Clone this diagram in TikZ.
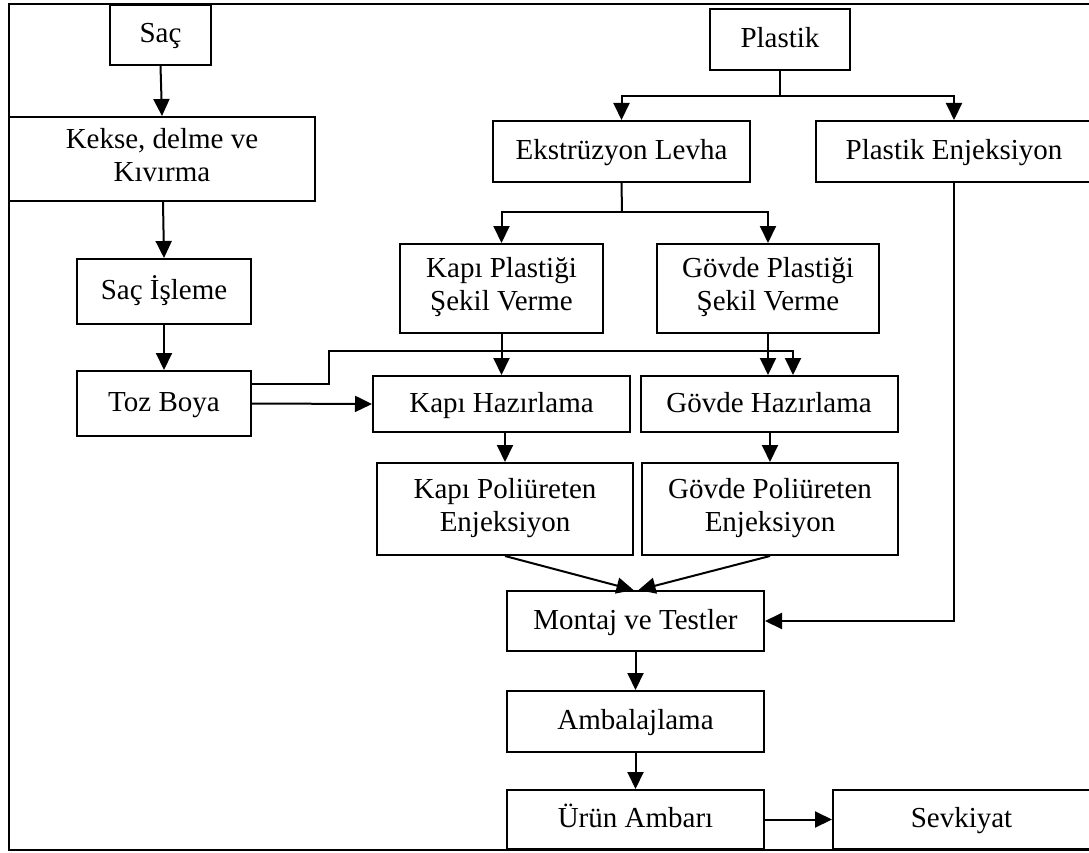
\documentclass[tikz,border=0pt]{standalone}
\usepackage{fontspec}
\setmainfont{Liberation Serif}
\usetikzlibrary{arrows.meta,calc}

% fixed line height and depth so every label sits on the same baseline grid
\newcommand\topstrut{\rule{0pt}{25pt}}
\newcommand\botstrut{\rule[-9pt]{0pt}{9pt}}

\begin{document}
\begin{tikzpicture}[x=1pt,y=-1pt,
  box/.style={draw, line width=2pt, rectangle, inner sep=0pt, align=center,
              font=\fontsize{29pt}{33pt}\selectfont,
              execute at begin node=\topstrut, execute at end node=\botstrut},
  link/.style={line width=2pt},
  flow/.style={line width=2pt, -{Triangle[length=17pt,width=16pt]}}]

\useasboundingbox (0,0) rectangle (1089,853);
\clip (0,0) rectangle (1089,853);

% outer frame
\draw[line width=2pt] (9,4) rectangle (1110,850);

% sheet-metal line
\node[box, minimum width=101pt, minimum height=60pt] (sac)    at (160.5,35)   {Saç};
\node[box, minimum width=306pt, minimum height=84pt] (kekse)  at (162,159)    {Kekse, delme ve\\Kıvırma};
\node[box, minimum width=174pt, minimum height=65pt] (isleme) at (164,291.5)  {Saç İşleme};
\node[box, minimum width=174pt, minimum height=65pt] (toz)    at (164,403.5)  {Toz Boya};

% plastics line
\node[box, minimum width=140pt, minimum height=61pt] (plastik) at (780,39.5)   {Plastik};
\node[box, minimum width=257pt, minimum height=61pt] (ekstr)   at (621.5,151.5) {Ekstrüzyon Levha};
\node[box, minimum width=276pt, minimum height=61pt] (penj)    at (954,151.5)   {Plastik Enjeksiyon};
\node[box, minimum width=203pt, minimum height=89pt] (kpsv)    at (501.5,288.5) {Kapı Plastiği\\Şekil Verme};
\node[box, minimum width=222pt, minimum height=89pt] (gpsv)    at (768,288.5)   {Gövde Plastiği\\Şekil Verme};

% preparation and foaming
\node[box, minimum width=257pt, minimum height=56pt] (khaz) at (501.5,404) {Kapı Hazırlama};
\node[box, minimum width=257pt, minimum height=56pt] (ghaz) at (769,404)   {Gövde Hazırlama};
\node[box, minimum width=256pt, minimum height=92pt] (kpol) at (505,509)   {Kapı Poliüreten\\Enjeksiyon};
\node[box, minimum width=256pt, minimum height=92pt] (gpol) at (770,509)   {Gövde Poliüreten\\Enjeksiyon};

% final stages
\node[box, minimum width=257pt, minimum height=60pt] (montaj) at (635.5,621)   {Montaj ve Testler};
\node[box, minimum width=257pt, minimum height=61pt] (ambal)  at (635.5,721.5) {Ambalajlama};
\node[box, minimum width=257pt, minimum height=59pt] (urun)   at (635.5,819.5) {Ürün Ambarı};
\node[box, minimum width=257pt, minimum height=59pt] (sevk)   at (961.5,819.5) {Sevkiyat};

% sheet-metal flow
\draw[flow] (sac.south) -- (kekse.north);
\draw[flow] ($(kekse.south)+(1,0)$) -- (isleme.north);
\draw[flow] (isleme.south) -- (toz.north);

% powder paint to both preparation stations
\coordinate (tzA) at ($(toz.east)+(0,-19.5)$);
\coordinate (tzB) at (329,0);
\coordinate (tzC) at (793,350.5);
\draw[flow] (tzA) -- (tzA -| tzB) -- (tzB |- tzC) -- (tzC) -- (tzC |- ghaz.north);
\draw[flow] (toz.east) -- (khaz.west);

% plastic split
\coordinate (plS) at (780,96);
\draw[link] (plastik.south) -- (plS);
\draw[flow] (plS) -- (ekstr.north |- plS) -- (ekstr.north);
\draw[flow] (plS) -- (penj.north |- plS) -- (penj.north);

% extrusion sheet split
\coordinate (exS) at (622,212);
\draw[link] (ekstr.south) -- (exS);
\draw[flow] (exS) -- (kpsv.north |- exS) -- (kpsv.north);
\draw[flow] (exS) -- (gpsv.north |- exS) -- (gpsv.north);

\draw[flow] (kpsv.south) -- (kpsv.south |- khaz.north);
\draw[flow] (gpsv.south) -- (gpsv.south |- ghaz.north);

\draw[flow] (kpol.north |- khaz.south) -- (kpol.north);
\draw[flow] (gpol.north |- ghaz.south) -- (gpol.north);

\draw[flow] (kpol.south) -- ($(montaj.north)+(-2,0)$);
\draw[flow] (gpol.south) -- ($(montaj.north)+(3,0)$);

% injection parts to assembly
\draw[flow] (penj.south) -- (penj.south |- montaj.east) -- (montaj.east);

\draw[flow] (montaj.south) -- (ambal.north);
\draw[flow] (ambal.south) -- (urun.north);
\draw[flow] (urun.east) -- (sevk.west);

\end{tikzpicture}
\end{document}
